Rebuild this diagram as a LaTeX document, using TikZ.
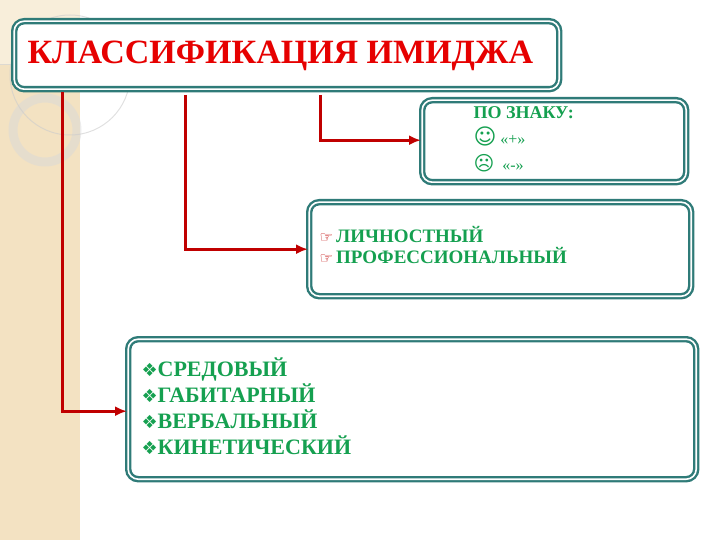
\documentclass[tikz,border=0pt]{standalone}
\usepackage{fontspec}
\setmainfont{Liberation Serif}
\newfontfamily\symf{DejaVu Sans}
\usetikzlibrary{arrows.meta}
\definecolor{teal1}{HTML}{2F7B78}
\definecolor{grn}{HTML}{15A050}
\definecolor{conn}{HTML}{C00000}
\definecolor{ttl}{HTML}{E60000}
\definecolor{beige}{HTML}{F3E2C2}
\begin{document}
\begin{tikzpicture}[x=1pt,y=-1pt,
  box/.style={draw=teal1,double=white,double distance=1.6pt,line width=2.4pt,rounded corners=10pt,fill=white},
  conn/.style={draw=conn,line width=3pt,-{Latex[length=12pt,width=10pt]}},
  txt/.style={text=grn,align=left,anchor=north west}]
\useasboundingbox (0,0) rectangle (720,540);
\fill[beige] (0,0) rectangle (80,540);
\fill[beige!60!white] (0,0) rectangle (80,65);
\draw[white!85!black,line width=9pt,opacity=0.5] (45,130) circle (32);
\draw[white!80!black,line width=1pt,opacity=0.6] (70,75) circle (60);
\draw[white!80!black,line width=1pt,opacity=0.6] (0,65) -- (80,65);
% boxes
\node[box,minimum width=545pt,minimum height=68pt,anchor=north west] (t) at (13,20) {};
\node[text=ttl,font=\bfseries\fontsize{34}{36}\selectfont,anchor=west] at (24,56) {КЛАССИФИКАЦИЯ ИМИДЖА};
\node[box,minimum width=264pt,minimum height=82pt,anchor=north west] (b1) at (421,99) {};
\node[box,minimum width=382pt,minimum height=94pt,anchor=north west] (b2) at (308,201) {};
\node[box,minimum width=568pt,minimum height=140pt,anchor=north west] (b3) at (127,338) {};
\node[txt,font=\bfseries\fontsize{18}{20}\selectfont] (p1) at (470,103) {ПО ЗНАКУ:};
\node[text=grn,anchor=west,font=\fontsize{16}{17}\selectfont] (p2) at (470,136) {{\symf\fontsize{22}{22}\selectfont ☺} «+»};
\node[text=grn,anchor=west,font=\fontsize{16}{17}\selectfont] (p3) at (470,163) {{\symf\fontsize{20}{20}\selectfont ☹}\ \ «-»};
\node[txt,font=\bfseries\fontsize{19}{21}\selectfont] (l2) at (316,223) {{\symf\color{conn}\fontsize{15}{15}\selectfont ☞}\,ЛИЧНОСТНЫЙ\\{\symf\color{conn}\fontsize{15}{15}\selectfont ☞}\,ПРОФЕССИОНАЛЬНЫЙ};
\node[txt,font=\bfseries\fontsize{22}{26}\selectfont] (l3) at (138,354) {{\symf\fontsize{18}{18}\selectfont ❖}СРЕДОВЫЙ\\{\symf\fontsize{18}{18}\selectfont ❖}ГАБИТАРНЫЙ\\{\symf\fontsize{18}{18}\selectfont ❖}ВЕРБАЛЬНЫЙ\\{\symf\fontsize{18}{18}\selectfont ❖}КИНЕТИЧЕСКИЙ};
% connectors
\coordinate (s1) at (320,95);
\coordinate (s2) at (185,95);
\coordinate (s3) at (62,92);
\draw[conn] (s1) |- ([yshift=1pt]b1.west);
\draw[conn] (s2) |- (b2.west);
\draw[conn] (s3) |- ([yshift=-2pt]b3.west);
\end{tikzpicture}
\end{document}
